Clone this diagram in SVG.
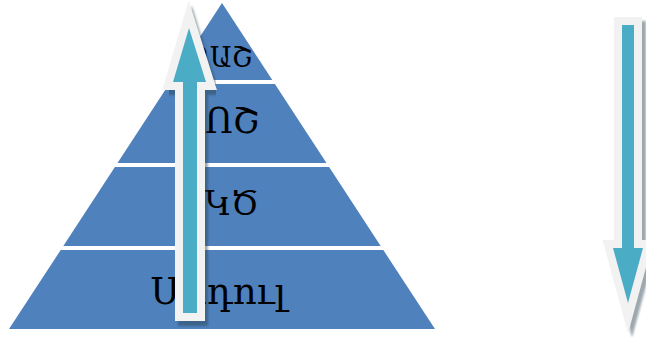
<svg xmlns="http://www.w3.org/2000/svg" width="646" height="337" viewBox="0 0 646 337">
<defs>
<style>
.lvl{fill:#4F81BD;}
.lbl{font-family:"DejaVu Serif","Liberation Serif",serif;fill:#000;text-anchor:end;}
.arr{fill:#4BACC6;stroke:#F2F2F2;stroke-width:16;stroke-linejoin:miter;stroke-miterlimit:6;paint-order:stroke;}
.shd{fill:#27404c;stroke:#27404c;stroke-width:16;stroke-linejoin:miter;stroke-miterlimit:6;opacity:0.45;filter:url(#blur);}
</style>
<filter id="blur" x="-20%" y="-20%" width="140%" height="140%"><feGaussianBlur stdDeviation="0.8"/></filter>
</defs>
<g id="level1"><polygon class="lvl" points="222,3 272.3,80 171.7,80"/><text class="lbl" x="252" y="67" font-size="27">ՈԱՇ</text></g>
<g id="level2"><polygon class="lvl" points="274.9,84 326.5,163 117.5,163 169.1,84"/><text class="lbl" x="259" y="133" font-size="35">ՈՈՇ</text></g>
<g id="level3"><polygon class="lvl" points="329.1,167 380.7,246 63.3,246 114.9,167"/><text class="lbl" x="259" y="215" font-size="33">ՄԿԾ</text></g>
<g id="level4"><polygon class="lvl" points="383.3,250 435,329 9,329 60.7,250"/><text class="lbl" x="286" y="304" font-size="37">Մոդուլ</text></g>
<g id="connectors">
<polygon class="shd" transform="translate(3,5)" points="189,28 206,82 197,82 197,313 183,313 183,82 173,82"/>
<polygon class="arr" points="189,28 206,82 197,82 197,313 183,313 183,82 173,82"/>
<polygon class="shd" transform="translate(4,4)" points="622,25 634,25 634,248 643,248 628,303 613,248 622,248"/>
<polygon class="arr" points="622,25 634,25 634,248 643,248 628,303 613,248 622,248"/>
</g>
</svg>
